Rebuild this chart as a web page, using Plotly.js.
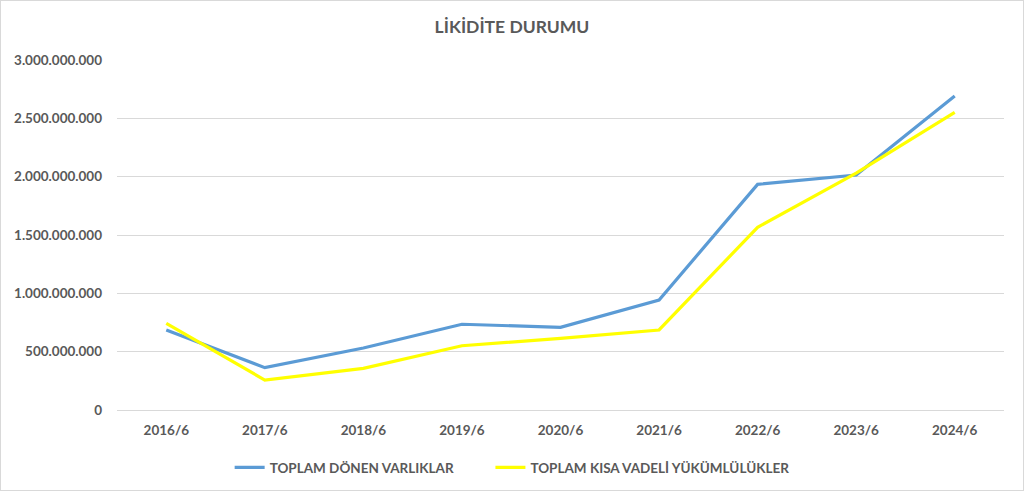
<!DOCTYPE html>
<html><head><meta charset="utf-8">
<script src="https://cdn.plot.ly/plotly-3.0.1.min.js"></script>
<style>
html,body{margin:0;padding:0;background:#fff;}
#wrap{position:relative;width:1024px;height:491px;}
#chart{position:absolute;left:0;top:0;width:1024px;height:491px;}
#frame{position:absolute;left:0;top:0;width:1022px;height:489px;border:1px solid #d9d9d9;pointer-events:none;}
</style></head>
<body>
<div id="wrap"><div id="chart"></div><div id="frame"></div></div>
<script>
const categories = ["2016/6","2017/6","2018/6","2019/6","2020/6","2021/6","2022/6","2023/6","2024/6"];
const donenVarliklar = [686000000, 363000000, 531000000, 735000000, 709000000, 943000000, 1934000000, 2014000000, 2691000000];
const kisaVadeliYukumlulukler = [743000000, 257000000, 357000000, 551000000, 614000000, 686000000, 1566000000, 2030000000, 2551000000];
const seriesNames = ["TOPLAM DÖNEN VARLIKLAR", "TOPLAM KISA VADELİ YÜKÜMLÜLÜKLER"];
const tickVals = [0, 500000000, 1000000000, 1500000000, 2000000000, 2500000000, 3000000000];

const font = "Lato, 'Open Sans', 'Liberation Sans', sans-serif";
const traces = [
  {x: categories, y: donenVarliklar, name: seriesNames[0], type: 'scatter', mode: 'lines',
   line: {color: '#5B9BD5', width: 3.2}, legend: 'legend'},
  {x: categories, y: kisaVadeliYukumlulukler, name: seriesNames[1], type: 'scatter', mode: 'lines',
   line: {color: '#FFFF00', width: 3.2}, legend: 'legend2'}
];
const tf = {family: font, size: 13.5, color: '#595959', weight: 'bold'};
const layout = {
  width: 1024, height: 491,
  margin: {l: 117, r: 20, t: 60, b: 81, autoexpand: false},
  paper_bgcolor: '#fff', plot_bgcolor: '#fff',
  separators: ',.',
  font: {family: font, color: '#595959', size: 12},
  title: {text: '<b>LİKİDİTE DURUMU</b>', x: 0.5, xanchor: 'center', y: 0.945, yanchor: 'middle',
          font: {family: font, size: 17.5, color: '#595959'}},
  xaxis: {type: 'category', range: [-0.5, 8.5], showgrid: false, zeroline: false, showline: false, ticks: '',
          tickfont: tf, ticklabelstandoff: 10},
  yaxis: {range: [0, 3000000000], tickvals: tickVals, tickformat: ',d', showgrid: true,
          gridcolor: '#d9d9d9', gridwidth: 1, zeroline: true, zerolinecolor: '#d9d9d9', zerolinewidth: 1,
          showline: false, ticks: '', tickfont: tf, ticklabelstandoff: 14},
  showlegend: true,
  legend: {orientation: 'h', x: 0.127, xanchor: 'left', y: -0.12, yanchor: 'top',
           font: tf, itemwidth: 30},
  legend2: {orientation: 'h', x: 0.421, xanchor: 'left', y: -0.12, yanchor: 'top',
           font: tf, itemwidth: 30},
};
Plotly.newPlot('chart', traces, layout, {displayModeBar: false, staticPlot: true});
</script>
</body></html>
